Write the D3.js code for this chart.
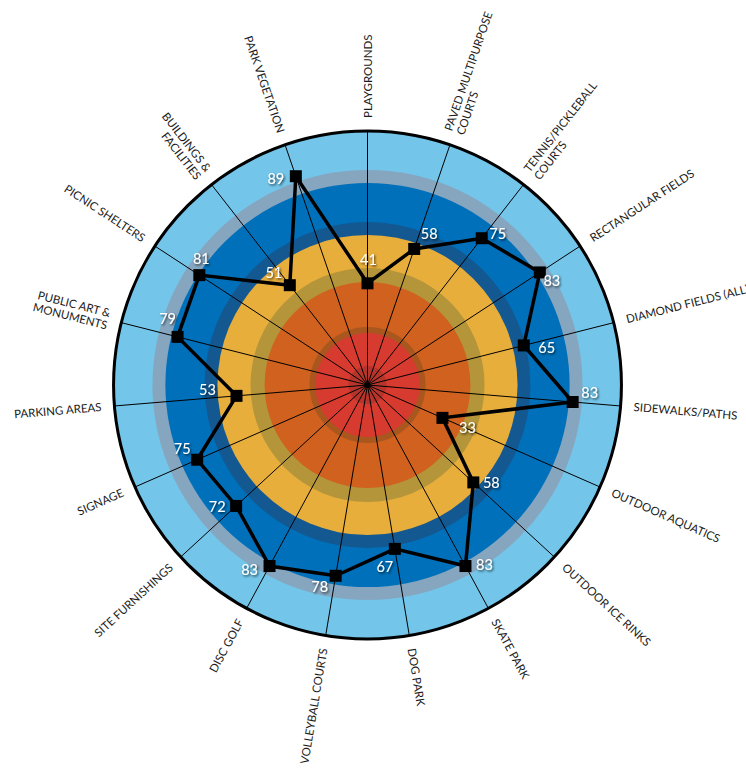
<!DOCTYPE html>
<html lang="en">
<head>
    <meta charset="UTF-8">
    <title>Park Component Condition Scores</title>
    <script src="https://d3js.org/d3.v7.min.js"></script>
    <style>
        body {
            margin: 0;
            padding: 0;
            background: #fff;
            font-family: 'Lato', 'Open Sans', sans-serif;
        }
        svg { display: block; }
        .cat-label {
            font-size: 11.5px;
            fill: #1c1c1c;
        }
        .val-label {
            font-size: 14.5px;
            fill: #fff;
        }
    </style>
</head>
<body>
<svg id="chart"></svg>
<script>
    // Categories, clockwise from the top ("\n" = line break in the label)
    const categories = [
        "PLAYGROUNDS",
        "PAVED MULTIPURPOSE\nCOURTS",
        "TENNIS/PICKLEBALL\nCOURTS",
        "RECTANGULAR FIELDS",
        "DIAMOND FIELDS (ALL)",
        "SIDEWALKS/PATHS",
        "OUTDOOR AQUATICS",
        "OUTDOOR ICE RINKS",
        "SKATE PARK",
        "DOG PARK",
        "VOLLEYBALL COURTS",
        "DISC GOLF",
        "SITE FURNISHINGS",
        "SIGNAGE",
        "PARKING AREAS",
        "PUBLIC ART &\nMONUMENTS",
        "PICNIC SHELTERS",
        "BUILDINGS &\nFACILITIES",
        "PARK VEGETATION"
    ];

    const scores = [41, 58, 75, 83, 65, 83, 33, 58, 83, 67, 78, 83, 72, 75, 53, 79, 81, 51, 89];

    // Background rings, outermost first (outer edge in score units)
    const ringEdges = [102.4, 86.7, 81.5, 65.7, 60.5, 47.2, 41.5, 23.4, 21, 7.7];
    const ringColors = ["#73c5e9", "#86a6c0", "#0070ba", "#135891", "#e8ae3c",
                        "#b4953a", "#d0611f", "#a9571e", "#d73a2f", "#b5352c"];

    // Chart setup
    const width = 746, height = 769;
    const cx = 367.5, cy = 385;

    const svg = d3.select("#chart")
        .attr("width", width)
        .attr("height", height);

    const defs = svg.append("defs");
    const shadow = defs.append("filter")
        .attr("id", "txtShadow")
        .attr("x", "-30%").attr("y", "-30%")
        .attr("width", "160%").attr("height", "160%");
    shadow.append("feDropShadow")
        .attr("dx", 1.2).attr("dy", 1.4)
        .attr("stdDeviation", 0.9)
        .attr("flood-color", "#000")
        .attr("flood-opacity", 0.75);

    const g = svg.append("g").attr("transform", `translate(${cx},${cy})`);

    // Scales
    const r = d3.scaleLinear().domain([0, 100]).range([0, 248]);
    const angle = d3.scaleLinear().domain([0, categories.length]).range([0, 360]);
    const rad = deg => deg * Math.PI / 180;
    const px = (i, v) => r(v) * Math.sin(rad(angle(i)));
    const py = (i, v) => -r(v) * Math.cos(rad(angle(i)));

    // Rings
    g.selectAll("circle.ring")
        .data(ringEdges)
        .join("circle")
        .attr("class", "ring")
        .attr("r", d => r(d))
        .attr("fill", (d, i) => ringColors[i]);

    // Spokes
    const outer = ringEdges[0];
    g.selectAll("line.spoke")
        .data(categories)
        .join("line")
        .attr("class", "spoke")
        .attr("x1", 0).attr("y1", 0)
        .attr("x2", (d, i) => px(i, outer))
        .attr("y2", (d, i) => py(i, outer))
        .attr("stroke", "#000")
        .attr("stroke-width", 1);

    g.append("circle").attr("r", 3).attr("fill", "#000");

    // Outer border
    g.append("circle")
        .attr("r", r(outer))
        .attr("fill", "none")
        .attr("stroke", "#000")
        .attr("stroke-width", 3);

    // Category labels
    const labelR = 267;
    const labels = g.selectAll("text.cat-label")
        .data(categories)
        .join("text")
        .attr("class", "cat-label")
        .attr("transform", (d, i) => {
            const a = angle(i);
            const x = labelR * Math.sin(rad(a));
            const y = -labelR * Math.cos(rad(a));
            const rot = a <= 180 ? a - 90 : a + 90;
            return `translate(${x},${y}) rotate(${rot})`;
        })
        .attr("text-anchor", (d, i) => angle(i) <= 180 ? "start" : "end");

    labels.each(function (d) {
        const lines = d.split("\n");
        const t = d3.select(this);
        lines.forEach((line, k) => {
            t.append("tspan")
                .attr("x", 0)
                .attr("dy", k === 0 ? `${0.35 - (lines.length - 1) * 0.55}em` : "1.1em")
                .text(line);
        });
    });

    // Score polygon
    const lineGen = d3.line()
        .x((d, i) => px(i, d))
        .y((d, i) => py(i, d))
        .curve(d3.curveLinearClosed);

    g.append("path")
        .datum(scores)
        .attr("d", lineGen)
        .attr("fill", "none")
        .attr("stroke", "#000")
        .attr("stroke-width", 3.5)
        .attr("stroke-linejoin", "miter");

    const mark = 12;
    g.selectAll("rect.marker")
        .data(scores)
        .join("rect")
        .attr("class", "marker")
        .attr("x", (d, i) => px(i, d) - mark / 2)
        .attr("y", (d, i) => py(i, d) - mark / 2)
        .attr("width", mark)
        .attr("height", mark)
        .attr("fill", "#000");

    // Score labels, nudged off each marker
    const nudge = [
        [1, -24], [15, -15], [16, -5], [12, 8], [23, 2], [17, -10], [25, 10],
        [18, 0], [19, -2], [-10, 18], [-16, 11], [-20, 3], [-19, 1], [-15, -11],
        [-29, -6], [-10, -18], [2, -17], [-16, -13], [-20, 2]
    ];

    g.selectAll("text.val-label")
        .data(scores)
        .join("text")
        .attr("class", "val-label")
        .attr("x", (d, i) => px(i, d) + nudge[i][0])
        .attr("y", (d, i) => py(i, d) + nudge[i][1])
        .attr("text-anchor", "middle")
        .attr("dominant-baseline", "central")
        .attr("filter", "url(#txtShadow)")
        .text(d => d);
</script>
</body>
</html>
